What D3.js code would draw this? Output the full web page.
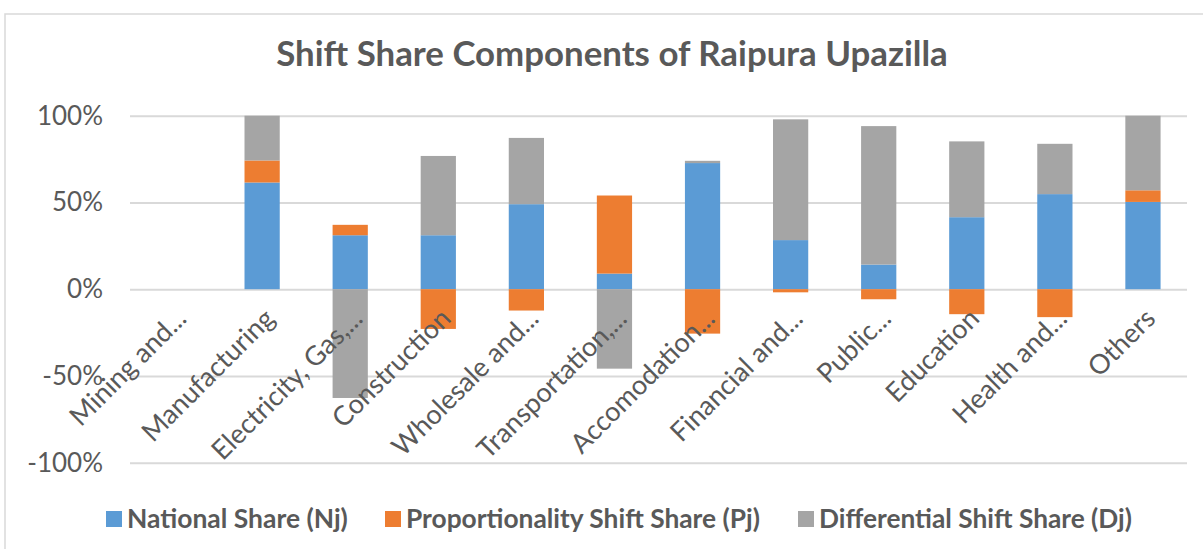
<!DOCTYPE html>
<html>
<head>
<meta charset="utf-8">
<script src="https://cdn.jsdelivr.net/npm/d3@7"></script>
<style>
  html, body { margin: 0; padding: 0; background: #fff; }
  svg { display: block; font-family: Lato, "Open Sans", sans-serif; }
</style>
</head>
<body>
<div id="chart"></div>
<script>
const categories = [
  "Mining and...", "Manufacturing", "Electricity, Gas,...", "Construction",
  "Wholesale and...", "Transportation,...", "Accomodation...", "Financial and...",
  "Public...", "Education", "Health and...", "Others"
];
// values in percent
const nationalShare     = [0, 61.5, 31.1, 31.1, 49.0,   9.0,  72.7, 28.3, 14.2,  41.5,  54.8, 50.3];
const proportionalShift = [0, 12.7,  6.0, -22.9, -12.3, 45.0, -25.6, -1.8, -5.8, -14.4, -16.1,  6.7];
const differentialShift = [0, 25.8, -62.7, 45.7, 38.2, -45.8,  1.3, 69.6, 79.8,  43.7,  29.0, 43.0];

const seriesNames = ["National Share (Nj)", "Proportionality Shift Share (Pj)", "Differential Shift Share (Dj)"];
const yTicks = [-100, -50, 0, 50, 100];

const colors = ["#5B9BD5", "#ED7D31", "#A5A5A5"];
const textColor = "#595959";
const gridColor = "#D9D9D9";

const W = 1203, H = 549;
const plot = { left: 130, right: 1187, top: 115.7, bottom: 462.7 };

const svg = d3.select("#chart").append("svg")
  .attr("width", W).attr("height", H);

// chart area border (runs off the right/bottom of the crop)
svg.append("rect")
  .attr("x", 5).attr("y", 14)
  .attr("width", 1300).attr("height", 700)
  .attr("fill", "#fff")
  .attr("stroke", gridColor).attr("stroke-width", 1.5);

function fitWidth(sel, target) {
  const len = sel.node().getComputedTextLength();
  const fs = parseFloat(sel.attr("font-size"));
  sel.attr("font-size", fs * target / len);
}

// Title
const title = svg.append("text")
  .attr("x", 612).attr("y", 66)
  .attr("text-anchor", "middle")
  .attr("font-size", 28).attr("font-weight", 700)
  .attr("fill", textColor)
  .text("Shift Share Components of Raipura Upazilla");
fitWidth(title, 672);

const x = d3.scaleBand()
  .domain(categories)
  .range([plot.left, plot.right])
  .paddingInner(0.6).paddingOuter(0.3);

const y = d3.scaleLinear()
  .domain([-100, 100])
  .range([plot.bottom, plot.top]);

// Gridlines + y labels
svg.append("g")
  .attr("transform", `translate(${plot.left},0)`)
  .call(d3.axisLeft(y).tickValues(yTicks)
    .tickSize(-(plot.right - plot.left)).tickPadding(27)
    .tickFormat((d) => `${d}%`))
  .call((g) => g.select(".domain").remove())
  .call((g) => g.selectAll("line").attr("stroke", gridColor).attr("stroke-width", 2))
  .selectAll("text")
  .attr("fill", textColor)
  .attr("font-size", 26)
  .attr("font-family", "Lato, sans-serif");

// Stacked bars (positives and negatives stacked separately)
const rows = categories.map((c, i) => ({
  cat: c, n: nationalShare[i], p: proportionalShift[i], d: differentialShift[i]
}));
const stacked = d3.stack()
  .keys(["n", "p", "d"])
  .offset(d3.stackOffsetDiverging)(rows);

svg.append("g")
  .selectAll("g")
  .data(stacked)
  .join("g")
  .attr("fill", (s, i) => colors[i])
  .selectAll("rect")
  .data((s) => s)
  .join("rect")
  .attr("x", (d) => x(d.data.cat))
  .attr("width", x.bandwidth())
  .attr("y", (d) => y(Math.max(d[0], d[1])))
  .attr("height", (d) => Math.abs(y(d[0]) - y(d[1])));

// Category labels, rotated
svg.append("g")
  .selectAll("text")
  .data(categories)
  .join("text")
  .attr("transform", (d) => `translate(${x(d) + x.bandwidth() / 2 + 14},${y(0) + 31}) rotate(-45)`)
  .attr("text-anchor", "end")
  .attr("fill", textColor)
  .attr("font-size", 27)
  .text((d) => d);

// Legend
const legendX = [106, 385, 798];
const legendW = [221, 354, 313];
const legend = svg.append("g");
seriesNames.forEach((name, i) => {
  legend.append("rect")
    .attr("x", legendX[i]).attr("y", 511)
    .attr("width", 16).attr("height", 16)
    .attr("fill", colors[i]);
  const t = legend.append("text")
    .attr("x", legendX[i] + 21).attr("y", 528)
    .attr("font-size", 24).attr("font-weight", 700)
    .attr("fill", textColor)
    .text(name);
  fitWidth(t, legendW[i]);
});
</script>
</body>
</html>
